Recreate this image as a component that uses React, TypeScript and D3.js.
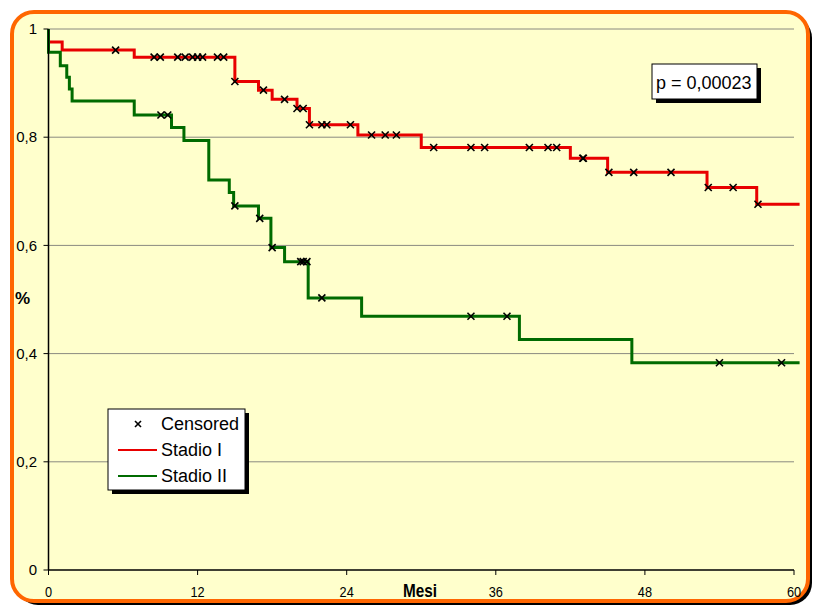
import * as d3 from 'd3';

// Kaplan-Meier steps: time of the drop (months) and the survival after it
const stadio1Times = [0, 1.1, 6.9, 15.0, 16.9, 18.0, 20.0, 21.0, 24.9, 30.0, 42.0, 45.0, 53.0, 57.0];
const stadio1Surv = [0.976, 0.961, 0.948, 0.903, 0.887, 0.870, 0.853, 0.823, 0.804, 0.781, 0.761, 0.735, 0.707, 0.676];
const stadio1Censored = [5.4, 8.5, 9.0, 10.4, 11.0, 11.6, 12.0, 12.4, 13.6, 14.1, 15.0, 17.3, 19.0, 20.0, 20.5, 21.0, 22.0, 22.4, 24.3, 26.0, 27.1, 28.0, 31.0, 34.0, 35.1, 38.7, 40.2, 40.9, 43.0, 43.05, 45.1, 47.1, 50.1, 53.1, 55.1, 57.1];

const stadio2Times = [0, 0.95, 1.47, 1.68, 1.9, 6.9, 9.9, 10.9, 12.9, 14.55, 14.9, 16.9, 17.9, 19.0, 20.9, 25.2, 37.9, 46.95];
const stadio2Surv = [0.957, 0.932, 0.911, 0.889, 0.867, 0.841, 0.818, 0.794, 0.721, 0.698, 0.673, 0.650, 0.596, 0.570, 0.503, 0.469, 0.426, 0.383];
const stadio2Censored = [9.05, 9.6, 15.0, 17.0, 18.0, 20.3, 20.5, 20.8, 22.0, 34.0, 36.9, 54.0, 59.0];

const xTicks = [0, 12, 24, 36, 48, 60];
const yTicks = [0, 0.2, 0.4, 0.6, 0.8, 1];
const lastTime = 60.45;

const width = 817;
const height = 606;
const margin = { top: 29, right: 23, bottom: 36, left: 48.5 };

const x = d3.scaleLinear().domain([0, 60]).range([margin.left, width - margin.right]);
const y = d3.scaleLinear().domain([0, 1]).range([height - margin.bottom, margin.top]);

function stepAt(times: number[], surv: number[], t: number) {
    let v = 1;
    times.forEach((tt, i) => {
        if (tt <= t) v = surv[i];
    });
    return v;
}

function curvePoints(times: number[], surv: number[]): [number, number][] {
    const pts: [number, number][] = [[0, 1]];
    times.forEach((t, i) => pts.push([t, surv[i]]));
    pts.push([lastTime, surv[surv.length - 1]]);
    return pts;
}

const line = d3
    .line<[number, number]>()
    .x((d) => x(d[0]))
    .y((d) => y(d[1]))
    .curve(d3.curveStepAfter);

const fmt = (v: number) => (v === 0 || v === 1 ? String(v) : String(v).replace('.', ','));

function Cross({ cx, cy, s = 3.5 }: { cx: number; cy: number; s?: number }) {
    return (
        <g stroke='#000' strokeWidth={1.6}>
            <line x1={cx - s} y1={cy - s} x2={cx + s} y2={cy + s} />
            <line x1={cx - s} y1={cy + s} x2={cx + s} y2={cy - s} />
        </g>
    );
}

export default function App() {
    const red = '#E80000';
    const green = '#006B00';
    const groups = [
        { times: stadio1Times, surv: stadio1Surv, cens: stadio1Censored, color: red },
        { times: stadio2Times, surv: stadio2Surv, cens: stadio2Censored, color: green },
    ];

    return (
        <svg
            width={width}
            height={height}
            style={{ position: 'absolute', left: 0, top: 0, background: '#fff' }}
            fontFamily='Arial, "Liberation Sans", sans-serif'
        >
            {/* frame with shadow */}
            <rect x={16} y={16} width={796} height={589} rx={22} fill='#000' />
            <rect x={12} y={12} width={796} height={589} rx={22} fill='#FFFFCC' stroke='#FF6600' strokeWidth={4} />

            {/* grid */}
            {yTicks.slice(1).map((t) => (
                <line key={t} x1={x(0)} x2={x(60)} y1={y(t)} y2={y(t)} stroke='#8a8a80' strokeWidth={1} />
            ))}

            {/* curves */}
            {groups.map((g, i) => (
                <path
                    key={i}
                    d={line(curvePoints(g.times, g.surv)) as string}
                    fill='none'
                    stroke={g.color}
                    strokeWidth={3}
                />
            ))}
            {groups.map((g, i) => (
                <g key={'c' + i}>
                    {g.cens.map((t, j) => (
                        <Cross key={j} cx={x(t)} cy={y(stepAt(g.times, g.surv, t))} />
                    ))}
                </g>
            ))}

            {/* axes */}
            <line x1={x(0)} x2={x(0)} y1={y(1)} y2={y(0)} stroke='#000' strokeWidth={1.5} />
            <line x1={x(0)} x2={x(60)} y1={y(0)} y2={y(0)} stroke='#000' strokeWidth={1.5} />
            {yTicks.map((t) => (
                <g key={t}>
                    <line x1={x(0) - 5} x2={x(0)} y1={y(t)} y2={y(t)} stroke='#000' strokeWidth={1} />
                    <text x={37} y={y(t)} dy='0.35em' textAnchor='end' fontSize={15} fill='#000'>
                        {fmt(t)}
                    </text>
                </g>
            ))}
            {xTicks.map((t) => (
                <g key={t}>
                    <line x1={x(t)} x2={x(t)} y1={y(0)} y2={y(0) + 5} stroke='#000' strokeWidth={1} />
                    <text
                        transform={`translate(${x(t)}, 597) scale(0.85, 1)`}
                        textAnchor='middle'
                        fontSize={15}
                        fill='#000'
                    >
                        {t}
                    </text>
                </g>
            ))}
            <text transform='translate(420, 597) scale(0.85, 1)' textAnchor='middle' fontSize={18} fontWeight='bold'>
                Mesi
            </text>
            <text x={15} y={304} fontSize={17} fontWeight='bold'>
                %
            </text>

            {/* p-value box */}
            <rect x={656} y={68} width={105} height={35} fill='#000' />
            <rect x={652} y={64} width={105} height={35} fill='#fff' stroke='#000' strokeWidth={1} />
            <text x={656} y={89} fontSize={18}>
                p = 0,00023
            </text>

            {/* legend */}
            <rect x={112} y={413} width={137} height={81} fill='#000' />
            <rect x={108} y={409} width={137} height={81} fill='#fff' stroke='#000' strokeWidth={1} />
            <Cross cx={138} cy={424} s={3} />
            <text x={161} y={424} dy='0.35em' fontSize={18}>
                Censored
            </text>
            <line x1={118} x2={157} y1={450} y2={450} stroke={red} strokeWidth={2} />
            <text x={161} y={450} dy='0.35em' fontSize={18}>
                Stadio I
            </text>
            <line x1={118} x2={157} y1={476} y2={476} stroke={green} strokeWidth={2} />
            <text x={161} y={476} dy='0.35em' fontSize={18}>
                Stadio II
            </text>
        </svg>
    );
}
